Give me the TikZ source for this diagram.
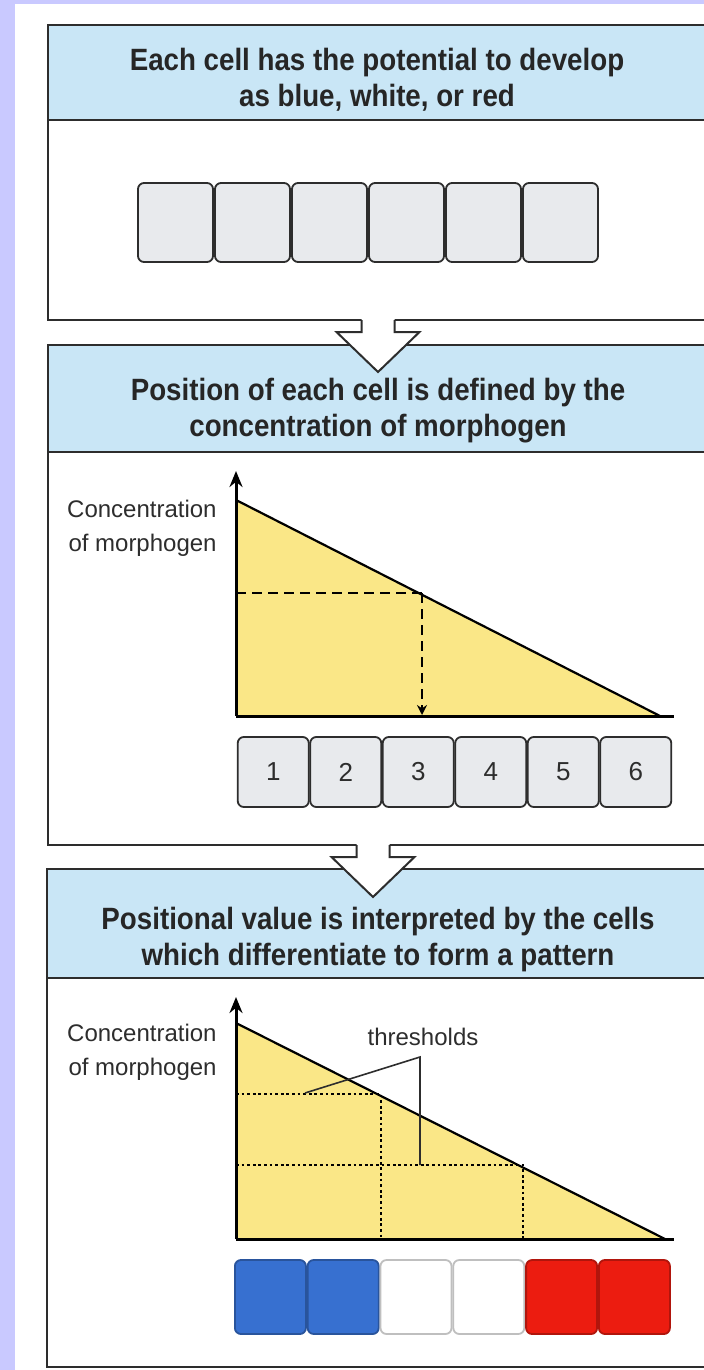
\documentclass[tikz,border=0pt]{standalone}
\usepackage{fontspec}
\setmainfont{Liberation Sans}
\newfontfamily\headfont{Liberation Sans}[FakeStretch=0.9]
\usepackage{xcolor}
\usetikzlibrary{positioning, arrows.meta}
\definecolor{lavender}{RGB}{201,201,255}
\definecolor{headblue}{RGB}{201,230,246}
\definecolor{gradyellow}{RGB}{250,231,135}
\definecolor{cellgray}{RGB}{232,234,237}
\definecolor{inkgray}{RGB}{45,45,45}
\definecolor{cellblue}{RGB}{55,112,208}
\definecolor{cellred}{RGB}{236,28,16}

\begin{document}
\begin{tikzpicture}[x=0.5pt, y=-0.5pt, every node/.style={inner sep=0pt},
  panel/.style={draw=inkgray, line width=1pt},
  head/.style={font=\headfont\fontsize{15.4}{18}\selectfont\bfseries, align=center, text=black!85},
  ylab/.style={font=\fontsize{12}{17}\selectfont, align=right, text=inkgray},
  cell/.style={draw=inkgray, line width=0.9pt, rounded corners=3pt, fill=cellgray},
  axis/.style={draw=black, line width=1.5pt, -{Stealth[length=8pt, width=6.5pt]}},
  slope/.style={draw=black, line width=1.1pt},
  guide/.style={draw=black, line width=1.4pt, dash pattern=on 5pt off 3pt},
  thresh/.style={draw=black, line width=1.1pt, dash pattern=on 1.4pt off 1.4pt},
  leader/.style={draw=inkgray, line width=0.8pt},
  bigarrow/.style={draw=inkgray, line width=1pt, line join=miter}]
\useasboundingbox (0,0) rectangle (704,1370);
\clip (0,0) rectangle (704,1370);
\fill[white] (0,0) rectangle (704,1370);
\fill[lavender] (0,0) rectangle (15,1370);
\fill[lavender] (0,0) rectangle (704,4);

% panels
\fill[headblue] (48,25) rectangle (706,120);
\draw[panel] (48,25) rectangle (706,320) (48,120) -- (706,120);
\fill[headblue] (48,345) rectangle (706,452);
\draw[panel] (48,345) rectangle (706,845) (48,452) -- (706,452);
\fill[headblue] (47,869) rectangle (706,978);
\draw[panel] (47,869) rectangle (706,1367) (47,978) -- (706,978);

\node[head] (h1) at (377,80) {Each cell has the potential to develop\\as blue, white, or red};
\node[head] (h2) at (378,411) {Position of each cell is defined by the\\concentration of morphogen};
\node[head] (h3) at (378,940) {Positional value is interpreted by the cells\\which differentiate to form a pattern};

% arrows between panels
\coordinate (a1) at (378,320);
\coordinate (a2) at (373,845);
\foreach \a in {a1,a2} {
  \fill[white] (\a) ++(-16.5,-3) -- ++(0,15) -- ++(-25,0) -- ++(41.5,40) -- ++(41.5,-40) -- ++(-25,0) -- ++(0,-15) -- cycle;
  \draw[bigarrow] (\a) ++(-16.5,0) -- ++(0,12) -- ++(-25,0) -- ++(41.5,40) -- ++(41.5,-40) -- ++(-25,0) -- ++(0,-12);
}

% row of undecided cells
\foreach \i in {1,...,6}
  \node[cell, minimum width=37.5pt, minimum height=39.5pt] (u\i) at ({175.5+77*(\i-1)}, 222.5) {};

% gradient with one cell position
\coordinate (o2) at (236,716);
\coordinate (top2) at (236,500);
\coordinate (end2) at (660,716);
\coordinate (p3) at (422,593);
\fill[gradyellow] (top2) -- (end2) -- (o2) -- cycle;
\draw[slope] (top2) -- (end2);
\draw[axis] (o2) -- (236,471);
\draw[draw=black, line width=1.5pt] (o2) -- (674,716);
\draw[guide] (236,593) -- (p3);
\draw[guide, -{Stealth[length=5pt, width=5pt]}] (p3) -- (422,715);
\node[ylab, anchor=east] (yl2) at (217,528) {Concentration\\of morphogen};
\foreach \i in {1,...,6}
  \node[cell, minimum width=35.5pt, minimum height=35pt, font=\fontsize{13}{15}\selectfont, text=inkgray] (n\i) at ({273.25+72.5*(\i-1)}, 772) {\i};

% gradient with thresholds
\coordinate (o3) at (236,1239);
\coordinate (top3) at (236,1023);
\coordinate (end3) at (665,1239);
\coordinate (t1) at (381,1094);
\coordinate (t2) at (523,1165);
\fill[gradyellow] (top3) -- (end3) -- (o3) -- cycle;
\draw[thresh] (236,1094) -- (t1) -- (381,1239);
\draw[thresh] (236,1165) -- (t2) -- (523,1239);
\draw[slope] (top3) -- (end3);
\draw[axis] (o3) -- (236,997);
\draw[draw=black, line width=1.5pt] (o3) -- (674,1239);
\node[ylab, anchor=east] (yl3) at (217,1052) {Concentration\\of morphogen};
\node[ylab] (thr) at (423,1037) {thresholds};
\coordinate (j) at (420,1057);
\draw[leader] (305,1093) -- (j) -- (420,1165);
\foreach \i/\c in {1/cellblue,2/cellblue,3/white,4/white,5/cellred,6/cellred}
  \node[cell, fill=\c, draw=\c!75!black, minimum width=35.5pt, minimum height=37pt] (d\i) at ({270.4+72.8*(\i-1)}, 1297) {};
\end{tikzpicture}
\end{document}
